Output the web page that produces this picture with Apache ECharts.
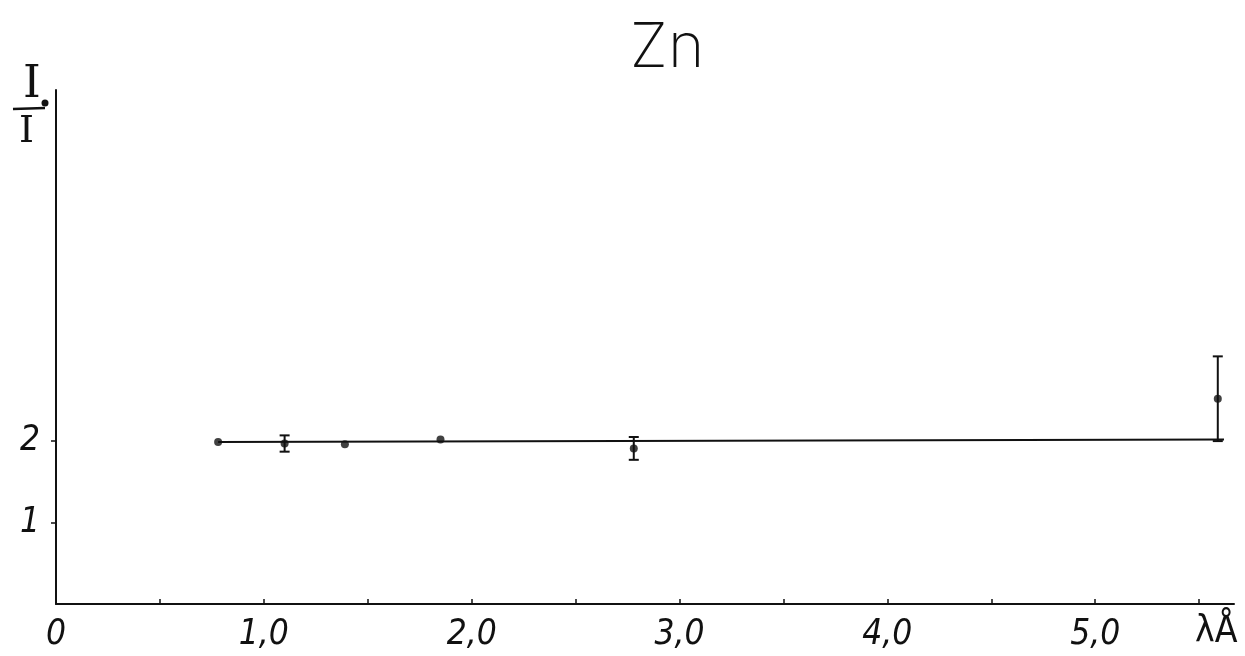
<!DOCTYPE html>
<html>
<head>
<meta charset="utf-8">
<script src="https://cdn.jsdelivr.net/npm/echarts@6/dist/echarts.min.js"></script>
<style>
html,body{margin:0;padding:0;background:#fff;}
#chart{width:1245px;height:656px;}
</style>
</head>
<body>
<div id="chart"></div>
<script>
// Data
const pointX = [0.78, 1.10, 1.39, 1.85, 2.78, 5.59];
const pointY = [1.99, 1.97, 1.96, 2.02, 1.91, 2.52];
const pointErr = [0, 0.10, 0, 0, 0.14, 0.52];
const fitX = [0.78, 5.62];
const fitY = [1.99, 2.02];
const xTickValues = [0.5, 1.0, 1.5, 2.0, 2.5, 3.0, 3.5, 4.0, 4.5, 5.0, 5.5];
const xLabelValues = [0, 1, 2, 3, 4, 5];
const yTickValues = [1, 2];
const titleText = 'Zn';
const xAxisName = 'λÅ';
const yAxisName = 'I';

const FONT = '"Liberation Sans Narrow","DejaVu Sans Condensed","DejaVu Sans",sans-serif';
const TITLE_FONT = '"Inter","Noto Sans","DejaVu Sans",sans-serif';

const points = pointX.map((x, i) => [x, pointY[i]]);
const errData = pointX.map((x, i) => [x, pointY[i] - pointErr[i], pointY[i] + pointErr[i]]).filter((d, i) => pointErr[i] > 0);
const fitData = fitX.map((x, i) => [x, fitY[i]]);

const chart = echarts.init(document.getElementById('chart'));
chart.setOption({
  backgroundColor: '#fff',
  animation: false,
  title: {
    text: titleText, left: 662, top: 12, textAlign: 'center',
    textStyle: { fontFamily: TITLE_FONT, fontSize: 62, fontWeight: 200, color: '#111' }
  },
  grid: { left: 56, right: 11, top: 90, bottom: 52, containLabel: false },
  xAxis: {
    type: 'value', min: 0, max: 5.668,
    axisLine: { show: true, lineStyle: { color: '#111', width: 2 } },
    axisTick: { show: true, inside: true, length: 5, customValues: xTickValues, lineStyle: { color: '#111', width: 1.5 } },
    axisLabel: {
      customValues: xLabelValues, margin: 13,
      fontFamily: FONT, fontSize: 35, fontStyle: 'italic', color: '#111',
      formatter: v => v === 0 ? '0' : v.toFixed(1).replace('.', ',')
    },
    splitLine: { show: false }
  },
  yAxis: {
    type: 'value', min: 0, max: 6.31,
    axisLine: { show: true, lineStyle: { color: '#111', width: 2 } },
    axisTick: { show: true, length: 5, customValues: yTickValues, lineStyle: { color: '#111', width: 1.5 } },
    axisLabel: {
      customValues: yTickValues, margin: 16,
      fontFamily: FONT, fontSize: 35, fontStyle: 'italic', color: '#111'
    },
    splitLine: { show: false }
  },
  graphic: [
    { type: 'text', left: 1195, top: 614, style: { text: xAxisName, fontFamily: FONT, fontSize: 37, fill: '#111' } },
    { type: 'text', left: 23, top: 63, style: { text: yAxisName, fontFamily: 'DejaVu Serif, serif', fontSize: 45, fill: '#111' } },
    { type: 'line', shape: { x1: 13, y1: 109, x2: 45, y2: 108 }, style: { stroke: '#111', lineWidth: 2.5 } },
    { type: 'circle', shape: { cx: 45, cy: 103, r: 3.5 }, style: { fill: '#111' } },
    { type: 'text', left: 19, top: 113, style: { text: yAxisName, fontFamily: 'DejaVu Serif, serif', fontSize: 38, fill: '#111' } }
  ],
  series: [
    {
      type: 'line', data: fitData, showSymbol: false, symbol: 'none',
      lineStyle: { color: '#111', width: 2 }, z: 2
    },
    {
      type: 'custom', z: 3,
      data: errData,
      renderItem: function (params, api) {
        const x = api.value(0);
        const lo = api.coord([x, api.value(1)]);
        const hi = api.coord([x, api.value(2)]);
        const cap = 5;
        const st = { stroke: '#111', lineWidth: 2 };
        return {
          type: 'group',
          children: [
            { type: 'line', shape: { x1: lo[0], y1: lo[1], x2: hi[0], y2: hi[1] }, style: st },
            { type: 'line', shape: { x1: hi[0] - cap, y1: hi[1], x2: hi[0] + cap, y2: hi[1] }, style: st },
            { type: 'line', shape: { x1: lo[0] - cap, y1: lo[1], x2: lo[0] + cap, y2: lo[1] }, style: st }
          ]
        };
      }
    },
    {
      type: 'scatter', data: points, symbol: 'circle', symbolSize: 8,
      itemStyle: { color: '#111' }, z: 4
    }
  ]
});
</script>
</body>
</html>
